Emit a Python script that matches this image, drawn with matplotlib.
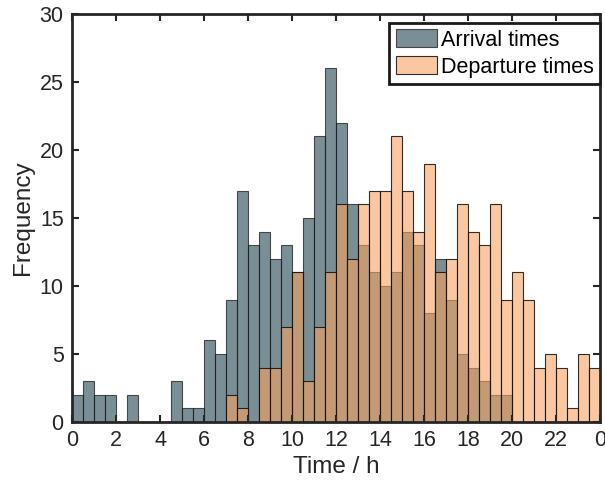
import matplotlib.pyplot as plt
import numpy as np

plt.rcParams['font.family'] = ['Liberation Sans', 'DejaVu Sans']

# half-hour bins over the day
bin_edges = np.arange(0, 24.5, 0.5)

arrival = [2, 3, 2, 2, 0, 2, 0, 0, 0, 3, 1, 1, 6, 5, 9, 17,
           13, 14, 12, 13, 11, 15, 21, 26, 22, 16, 13, 11, 10, 11, 14, 13,
           8, 12, 9, 5, 4, 3, 2, 2, 0, 0, 0, 0, 0, 0, 0, 0]
departure = [0, 0, 0, 0, 0, 0, 0, 0, 0, 0, 0, 0, 0, 0, 2, 1,
             0, 4, 4, 7, 11, 3, 7, 11, 16, 12, 16, 17, 17, 21, 17, 14,
             19, 11, 12, 16, 14, 13, 16, 9, 11, 9, 4, 5, 4, 1, 5, 4]

xticks = [0, 2, 4, 6, 8, 10, 12, 14, 16, 18, 20, 22, 24]
xticklabels = ['0', '2', '4', '6', '8', '10', '12', '14', '16', '18', '20', '22', '0']

fig = plt.figure(figsize=(6.05, 4.91), dpi=100)
ax = fig.add_axes([0.119, 0.1405, 0.873, 0.831])

ax.bar(bin_edges[:-1], arrival, width=0.5, align='edge',
       facecolor=(0.13, 0.27, 0.31, 0.6), edgecolor=(0.1, 0.1, 0.1, 0.75),
       linewidth=0.8, label='Arrival times')
ax.bar(bin_edges[:-1], departure, width=0.5, align='edge',
       facecolor=(0.97, 0.64, 0.38, 0.6), edgecolor=(0.05, 0.05, 0.05, 0.85),
       linewidth=0.8, label='Departure times')

ax.set_xlim(0, 24)
ax.set_ylim(0, 30)
ax.set_xticks(xticks)
ax.set_xticklabels(xticklabels)
ax.set_yticks(range(0, 31, 5))

tc = '#262626'
ax.tick_params(direction='in', length=5, width=1.5, top=True, right=True,
               labelsize=15.5, colors=tc, pad=6)
for s in ax.spines.values():
    s.set_linewidth(2)
    s.set_color(tc)

ax.set_xlabel('Time / h', fontsize=17.5, color=tc, labelpad=3)
ax.set_ylabel('Frequency', fontsize=17.5, color=tc, labelpad=4)

leg = ax.legend(loc='upper right', bbox_to_anchor=(1.0, 0.978), borderaxespad=0,
                fontsize=15.5, frameon=True, fancybox=False,
                borderpad=0.3, handlelength=1.9, handleheight=0.9,
                handletextpad=0.2, labelspacing=0.25)
leg.get_frame().set_edgecolor('#1a1a1a')
leg.get_frame().set_linewidth(2)
leg.get_frame().set_alpha(1)

fig.savefig('out.png', dpi=100)
